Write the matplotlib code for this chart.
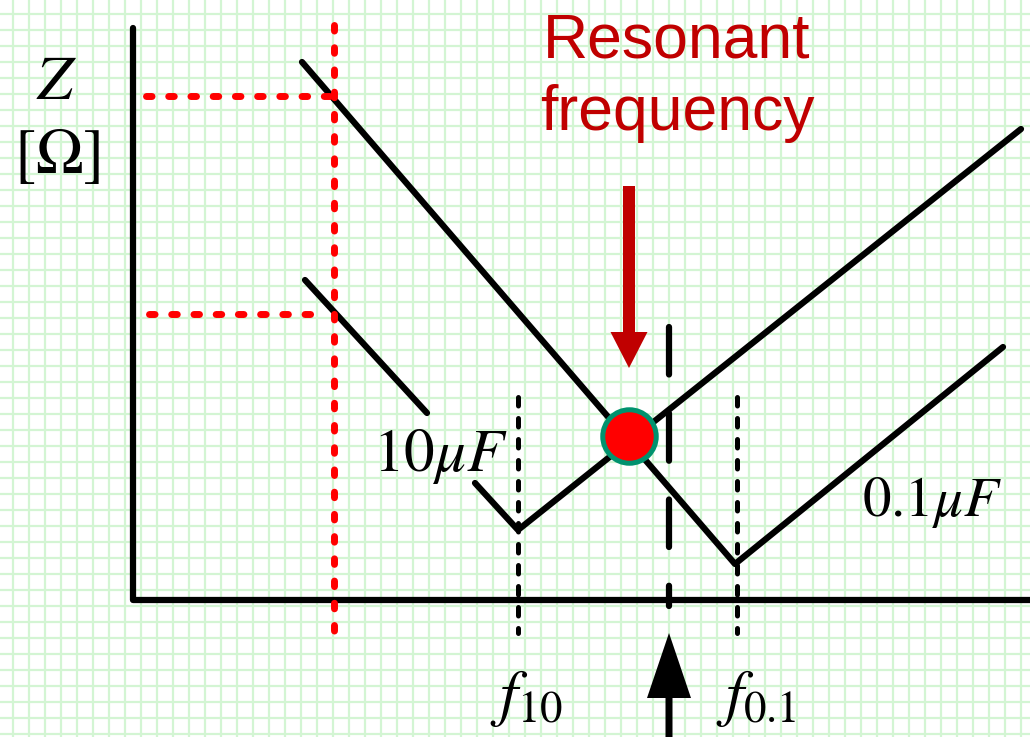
import matplotlib
matplotlib.use("Agg")
import matplotlib.pyplot as plt
import numpy as np

plt.rcParams['mathtext.fontset'] = 'stix'

# ---- diagram geometry (pixel space of the 1030x737 canvas) ----
W, H = 1030, 737
grid_x0, grid_y0, grid_step = 13, 14, 16

axis_x = [133, 133, 1030]
axis_y = [28, 600, 600]

cap01_x = [302, 735, 1003]          # 0.1 uF impedance curve
cap01_y = [62, 564, 347]
cap10_a_x = [305, 427]              # 10 uF curve, upper part
cap10_a_y = [280, 413]
cap10_b_x = [475, 518, 1021]        # 10 uF curve, lower part
cap10_b_y = [483, 530, 129]

red_v_x = [334, 334]
red_v_y = [25, 635]
red_h1_x = [146, 334]
red_h1_y = [96, 96]
red_h2_x = [149, 318]
red_h2_y = [314, 314]

f10_x = [518, 518]
f01_x = [737, 737]
fdot_y = [397, 633]
fres_x = [669, 669]
fres_y = [327, 606]

res_pt = (629, 436)
red_arrow = dict(x=629, y0=186, y1=368)
blk_arrow = dict(x=669, y0=745, y1=633)

labels = {
    "Z": "$Z$",
    "ohm": r"$[\Omega]$",
    "c10": r"$10\mu F$",
    "c01": r"$0.1\mu F$",
    "f10": r"$f_{10}$",
    "f01": r"$f_{0.1}$",
}
title_lines = ["Resonant", "frequency"]

# ---- figure ----
fig = plt.figure(figsize=(W / 100, H / 100), dpi=100)
ax = fig.add_axes([0, 0, 1, 1])
ax.set_xlim(0, W)
ax.set_ylim(H, 0)
for s in ax.spines.values():
    s.set_visible(False)
ax.set_xticks(np.arange(grid_x0, W, grid_step))
ax.set_yticks(np.arange(grid_y0, H, grid_step))
ax.tick_params(length=0, labelbottom=False, labelleft=False)
ax.grid(True, color='#D3F5D3', linewidth=1.6)
ax.set_axisbelow(True)

LW = 4.5
black = 'black'
kw = dict(color=black, lw=LW, solid_capstyle='round', solid_joinstyle='round')
ax.plot(axis_x, axis_y, **kw)
ax.plot(cap01_x, cap01_y, **kw)
ax.plot(cap10_a_x, cap10_a_y, **kw)
ax.plot(cap10_b_x, cap10_b_y, **kw)

# red dotted guides
rkw = dict(color='#FF0000', lw=5.0, dash_capstyle='round', dashes=(0.8, 2.4))
ax.plot(red_v_x, red_v_y, **rkw)
ax.plot(red_h1_x, red_h1_y, **rkw)
ax.plot(red_h2_x, red_h2_y, **rkw)

# black dotted at f10 / f0.1
dkw = dict(color=black, lw=3.6, dash_capstyle='round', dashes=(1.7, 2.5))
ax.plot(f10_x, fdot_y, **dkw)
ax.plot(f01_x, fdot_y, **dkw)

# long-dash at resonance
ax.plot(fres_x, fres_y, color=black, lw=LW, dash_capstyle='round', dashes=(7.6, 6.2))

# resonant point
ax.plot([res_pt[0]], [res_pt[1]], marker='o', ms=38.5, mfc='#FF0000',
        mec='#00926E', mew=3.6, zorder=5)

# arrows
ax.arrow(red_arrow['x'], red_arrow['y0'], 0, red_arrow['y1'] - red_arrow['y0'],
         width=12, head_width=37, head_length=36, length_includes_head=True,
         color='#C00000', lw=0, zorder=4)
ax.arrow(blk_arrow['x'], blk_arrow['y0'], 0, blk_arrow['y1'] - blk_arrow['y0'],
         width=7, head_width=44, head_length=65, length_includes_head=True,
         color=black, lw=0, zorder=4)

# texts
ax.text(677, 57, title_lines[0], ha='center', va='baseline', color='#C00000',
        fontsize=45, family='Liberation Sans')
ax.text(677, 130, title_lines[1], ha='center', va='baseline', color='#C00000',
        fontsize=45, family='Liberation Sans')

ax.text(57, 50, labels["Z"], ha='center', va='top', fontsize=46)
ax.text(57, 125, labels["ohm"], ha='center', va='top', fontsize=46)
ax.text(373, 427, labels["c10"], ha='left', va='top', fontsize=44)
ax.text(862, 475, labels["c01"], ha='left', va='top', fontsize=41)
ax.text(490, 667, labels["f10"], ha='left', va='top', fontsize=46)
ax.text(716, 667, labels["f01"], ha='left', va='top', fontsize=46)

fig.savefig("out.png", dpi=100)
